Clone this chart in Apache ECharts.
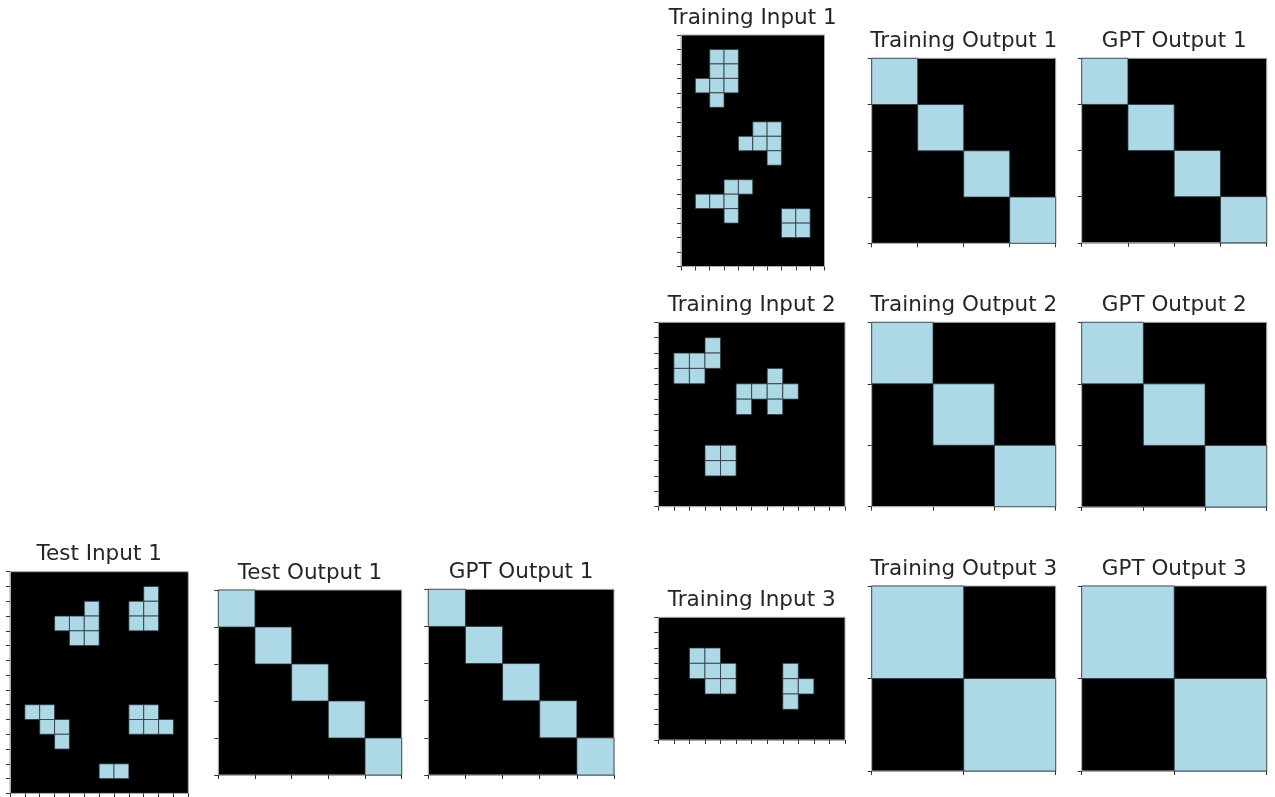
<!DOCTYPE html>
<html>
<head>
<meta charset="utf-8">
<script src="https://cdn.jsdelivr.net/npm/echarts@6/dist/echarts.min.js"></script>
<style>
html,body{margin:0;padding:0;background:#fff;}
#chart{width:1275px;height:797px;}
</style>
</head>
<body>
<div id="chart"></div>
<script>
// ---- Data (grid cell values: 0 = black, 1 = light blue) ----
const trainingInput1 = [
  [0,0,0,0,0,0,0,0,0,0],
  [0,0,1,1,0,0,0,0,0,0],
  [0,0,1,1,0,0,0,0,0,0],
  [0,1,1,1,0,0,0,0,0,0],
  [0,0,1,0,0,0,0,0,0,0],
  [0,0,0,0,0,0,0,0,0,0],
  [0,0,0,0,0,1,1,0,0,0],
  [0,0,0,0,1,1,1,0,0,0],
  [0,0,0,0,0,0,1,0,0,0],
  [0,0,0,0,0,0,0,0,0,0],
  [0,0,0,1,1,0,0,0,0,0],
  [0,1,1,1,0,0,0,0,0,0],
  [0,0,0,1,0,0,0,1,1,0],
  [0,0,0,0,0,0,0,1,1,0],
  [0,0,0,0,0,0,0,0,0,0],
  [0,0,0,0,0,0,0,0,0,0]
];
const trainingOutput1 = [
  [1,0,0,0],
  [0,1,0,0],
  [0,0,1,0],
  [0,0,0,1]
];
const gptTrainOutput1 = [
  [1,0,0,0],
  [0,1,0,0],
  [0,0,1,0],
  [0,0,0,1]
];
const trainingInput2 = [
  [0,0,0,0,0,0,0,0,0,0,0,0],
  [0,0,0,1,0,0,0,0,0,0,0,0],
  [0,1,1,1,0,0,0,0,0,0,0,0],
  [0,1,1,0,0,0,0,1,0,0,0,0],
  [0,0,0,0,0,1,1,1,1,0,0,0],
  [0,0,0,0,0,1,0,1,0,0,0,0],
  [0,0,0,0,0,0,0,0,0,0,0,0],
  [0,0,0,0,0,0,0,0,0,0,0,0],
  [0,0,0,1,1,0,0,0,0,0,0,0],
  [0,0,0,1,1,0,0,0,0,0,0,0],
  [0,0,0,0,0,0,0,0,0,0,0,0],
  [0,0,0,0,0,0,0,0,0,0,0,0]
];
const trainingOutput2 = [
  [1,0,0],
  [0,1,0],
  [0,0,1]
];
const gptTrainOutput2 = [
  [1,0,0],
  [0,1,0],
  [0,0,1]
];
const trainingInput3 = [
  [0,0,0,0,0,0,0,0,0,0,0,0],
  [0,0,0,0,0,0,0,0,0,0,0,0],
  [0,0,1,1,0,0,0,0,0,0,0,0],
  [0,0,1,1,1,0,0,0,1,0,0,0],
  [0,0,0,1,1,0,0,0,1,1,0,0],
  [0,0,0,0,0,0,0,0,1,0,0,0],
  [0,0,0,0,0,0,0,0,0,0,0,0],
  [0,0,0,0,0,0,0,0,0,0,0,0]
];
const trainingOutput3 = [
  [1,0],
  [0,1]
];
const gptTrainOutput3 = [
  [1,0],
  [0,1]
];
const testInput1 = [
  [0,0,0,0,0,0,0,0,0,0,0,0],
  [0,0,0,0,0,0,0,0,0,1,0,0],
  [0,0,0,0,0,1,0,0,1,1,0,0],
  [0,0,0,1,1,1,0,0,1,1,0,0],
  [0,0,0,0,1,1,0,0,0,0,0,0],
  [0,0,0,0,0,0,0,0,0,0,0,0],
  [0,0,0,0,0,0,0,0,0,0,0,0],
  [0,0,0,0,0,0,0,0,0,0,0,0],
  [0,0,0,0,0,0,0,0,0,0,0,0],
  [0,1,1,0,0,0,0,0,1,1,0,0],
  [0,0,1,1,0,0,0,0,1,1,1,0],
  [0,0,0,1,0,0,0,0,0,0,0,0],
  [0,0,0,0,0,0,0,0,0,0,0,0],
  [0,0,0,0,0,0,1,1,0,0,0,0],
  [0,0,0,0,0,0,0,0,0,0,0,0]
];
const testOutput1 = [
  [1,0,0,0,0],
  [0,1,0,0,0],
  [0,0,1,0,0],
  [0,0,0,1,0],
  [0,0,0,0,1]
];
const gptTestOutput1 = [
  [1,0,0,0,0],
  [0,1,0,0,0],
  [0,0,1,0,0],
  [0,0,0,1,0],
  [0,0,0,0,1]
];
const panelTitles = [
  'Training Input 1','Training Output 1','GPT Output 1',
  'Training Input 2','Training Output 2','GPT Output 2',
  'Training Input 3','Training Output 3','GPT Output 3',
  'Test Input 1','Test Output 1','GPT Output 1'
];
const panelGrids = [
  trainingInput1, trainingOutput1, gptTrainOutput1,
  trainingInput2, trainingOutput2, gptTrainOutput2,
  trainingInput3, trainingOutput3, gptTrainOutput3,
  testInput1, testOutput1, gptTestOutput1
];

// ---- Layout (pixel boxes of each plot area) ----
const layout = [
  [681, 35, 143.5, 231.5],
  [871.7, 58.3, 184, 185],
  [1081.7, 58.3, 185, 184.5],
  [658.3, 322.3, 186.7, 184.4],
  [871.7, 322.3, 184, 184.4],
  [1081.7, 322.3, 185, 184.7],
  [658.3, 617.3, 186.7, 122.7],
  [871.7, 586, 184, 185],
  [1081.7, 586, 185, 185],
  [10, 571.7, 178.3, 221.7],
  [218.3, 590, 183.4, 185],
  [428.3, 589.3, 185.7, 185.7]
];

const BLUE = '#add8e6';
const FONT = 'DejaVu Sans';

function renderCell(params, api) {
  const v = api.value(2);
  if (!v) return null;
  const c = api.coord([api.value(0), api.value(1)]);
  const s = api.size([1, 1]);
  return {
    type: 'rect',
    shape: { x: c[0] - s[0] / 2, y: c[1] - s[1] / 2, width: s[0], height: s[1] },
    style: { fill: BLUE, stroke: 'rgba(40,50,55,0.75)', lineWidth: 1 }
  };
}

const grids = [], xAxes = [], yAxes = [], series = [], graphics = [];
panelGrids.forEach((g, i) => {
  const rows = g.length, cols = g[0].length;
  const [l, t, w, h] = layout[i];
  grids.push({ left: l, top: t, width: w, height: h, show: true, borderColor: '#aaa', borderWidth: 1, backgroundColor: '#000' });
  const tickStyle = { show: true, inside: false, length: 4, interval: 0, lineStyle: { color: '#333', width: 1 } };
  xAxes.push({
    gridIndex: i, type: 'category', position: 'bottom',
    data: Array.from({ length: cols }, (_, k) => String(k)),
    axisLine: { show: true, lineStyle: { color: '#aaa', width: 1 } },
    axisTick: tickStyle, axisLabel: { show: false, interval: 0 }, splitLine: { show: false }
  });
  yAxes.push({
    gridIndex: i, type: 'category', inverse: true, position: 'left',
    data: Array.from({ length: rows }, (_, k) => String(k)),
    axisLine: { show: true, lineStyle: { color: '#aaa', width: 1 } },
    axisTick: tickStyle, axisLabel: { show: false, interval: 0 }, splitLine: { show: false }
  });
  const data = [];
  g.forEach((row, r) => row.forEach((v, c) => data.push([c, r, v])));
  series.push({
    type: 'custom', xAxisIndex: i, yAxisIndex: i, renderItem: renderCell,
    data: data, silent: true, animation: false, clip: false
  });
  graphics.push({
    type: 'text', x: l + w / 2, y: t - 17,
    style: { text: panelTitles[i], font: '21.5px "' + FONT + '"', fill: '#262626', textAlign: 'center', textVerticalAlign: 'middle' }
  });
});

const chart = echarts.init(document.getElementById('chart'), null, { renderer: 'canvas' });
chart.setOption({
  backgroundColor: '#fff',
  animation: false,
  grid: grids,
  xAxis: xAxes,
  yAxis: yAxes,
  series: series,
  graphic: graphics
});
</script>
</body>
</html>
